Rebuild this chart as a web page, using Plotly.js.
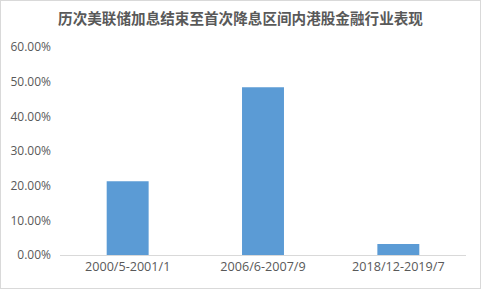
<!DOCTYPE html>
<html>
<head>
<meta charset="utf-8">
<script src="https://cdn.plot.ly/plotly-3.0.1.min.js"></script>
<style>
html,body{margin:0;padding:0;background:#fff;}
#wrap{position:relative;width:481px;height:289px;}
#chart{width:481px;height:289px;}
#frame{position:absolute;left:0;top:0;width:481px;height:289px;box-sizing:border-box;border:1px solid #d9d9d9;pointer-events:none;}
</style>
</head>
<body>
<div id="wrap"><div id="chart"></div><div id="frame"></div></div>
<script>
const categories = ["2000/5-2001/1", "2006/6-2007/9", "2018/12-2019/7"];
const values = [0.213, 0.484, 0.032];
const tickVals = [0, 0.1, 0.2, 0.3, 0.4, 0.5, 0.6];
const tickText = ["0.00%", "10.00%", "20.00%", "30.00%", "40.00%", "50.00%", "60.00%"];
const titleText = "历次美联储加息结束至首次降息区间内港股金融行业表现";

const cjk = "'Noto Sans CJK SC', 'Noto Sans', sans-serif";
const latin = "'Open Sans', 'Noto Sans', sans-serif";
Plotly.newPlot("chart", [{
  type: "bar",
  x: categories,
  y: values,
  marker: {color: "#5b9bd5"},
  hoverinfo: "none"
}], {
  width: 481, height: 289,
  margin: {l: 60, r: 15, t: 47, b: 34},
  paper_bgcolor: "#fff", plot_bgcolor: "#fff",
  bargap: 0.69,
  showlegend: false,
  title: {text: "<b>" + titleText + "</b>", x: 0.5, xanchor: "center", y: 0.934, yanchor: "middle",
          font: {family: cjk, size: 14.6, color: "#595959"}},
  xaxis: {
    type: "category",
    showline: true, linecolor: "#d9d9d9", linewidth: 1,
    ticks: "", showgrid: false,
    tickfont: {family: latin, size: 12.6, color: "#595959"}
  },
  yaxis: {
    range: [0, 0.6],
    tickvals: tickVals, ticktext: tickText,
    showgrid: false, zeroline: false, showline: false, ticks: "",
    tickfont: {family: latin, size: 12, color: "#595959"},
    ticklabelstandoff: 8
  }
}, {displayModeBar: false, staticPlot: true});
</script>
</body>
</html>
